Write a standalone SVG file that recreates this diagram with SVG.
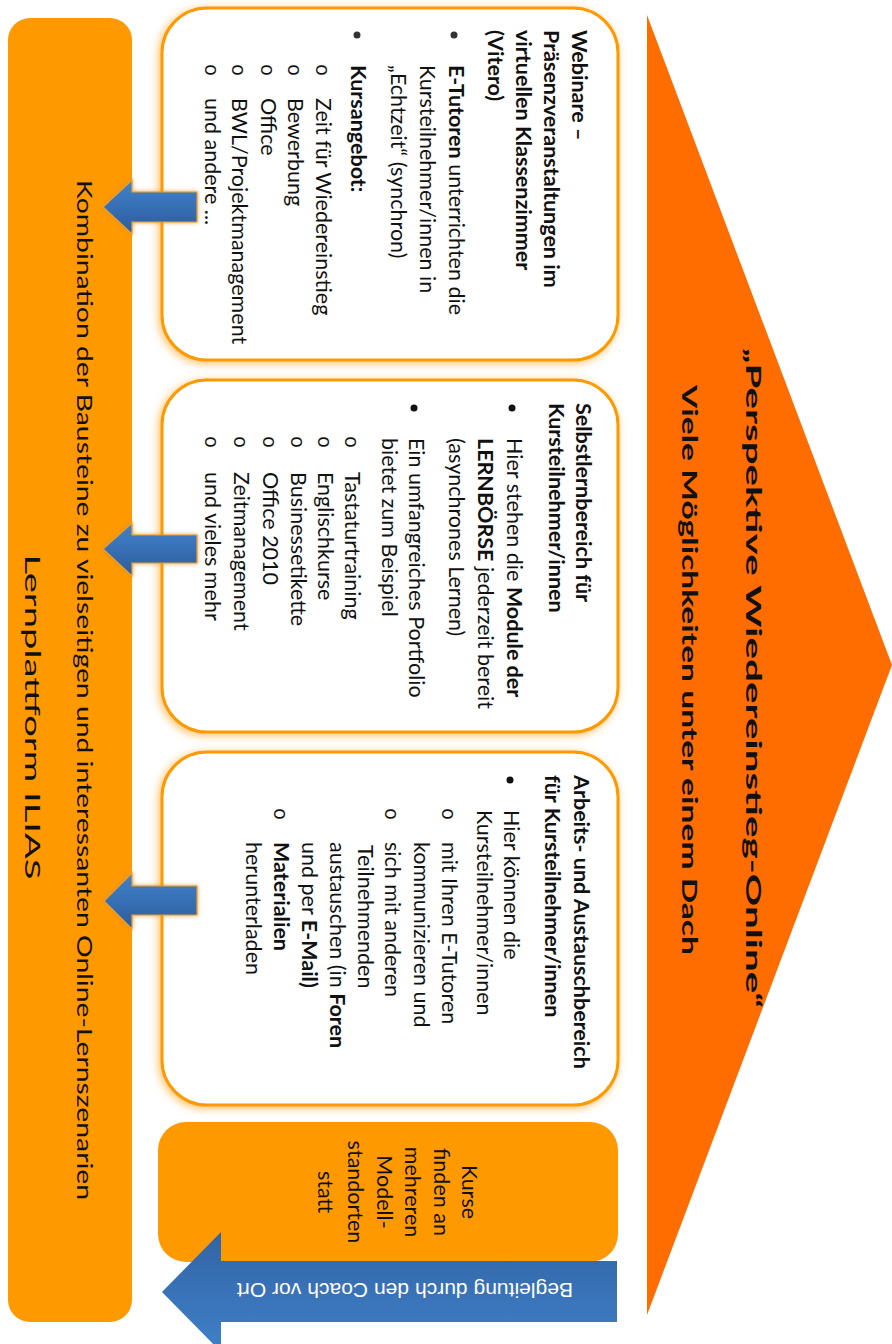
<svg xmlns="http://www.w3.org/2000/svg" width="892" height="1344" viewBox="0 0 892 1344">
<style>
.t{font-family:Lato,"Liberation Sans",sans-serif;font-size:21.5px;fill:#111}
.b{font-weight:700}
.o{font-family:"Liberation Mono",monospace;font-size:20px;fill:#111}
.box{fill:#fff;stroke:#FF9900;stroke-width:3}
.arr{fill:url(#gArr);stroke:#E8A030;stroke-width:1.2}
</style>
<defs>
<filter id="glow" x="-10%" y="-10%" width="120%" height="120%">
<feGaussianBlur in="SourceAlpha" stdDeviation="4" result="bl"/>
<feFlood flood-color="#FFB040" flood-opacity="0.8"/>
<feComposite in2="bl" operator="in" result="sh"/>
<feOffset dx="-2" dy="2" result="sh2"/>
<feMerge><feMergeNode in="sh2"/><feMergeNode in="SourceGraphic"/></feMerge>
</filter>
<filter id="aglow" x="-20%" y="-20%" width="140%" height="140%">
<feGaussianBlur in="SourceAlpha" stdDeviation="2" result="bl"/>
<feFlood flood-color="#D98A20" flood-opacity="0.8"/>
<feComposite in2="bl" operator="in" result="sh"/>
<feMerge><feMergeNode in="sh"/><feMergeNode in="SourceGraphic"/></feMerge>
</filter>
<linearGradient id="gArr" x1="0" y1="0" x2="0" y2="1">
<stop offset="0" stop-color="#4282CC"/>
<stop offset="1" stop-color="#2C5C9C"/>
</linearGradient>
<linearGradient id="gBig" x1="0" y1="0" x2="0" y2="1">
<stop offset="0" stop-color="#3264A6"/>
<stop offset="1" stop-color="#4080C8"/>
</linearGradient>
</defs>

<g id="roof">
<polygon points="647,15 892,665 647,1315" fill="#FF6D00"/>
<g transform="rotate(90)">
<text class="t b" x="678" y="-746" font-size="37" text-anchor="middle" textLength="660" lengthAdjust="spacingAndGlyphs">„Perspektive Wiedereinstieg-Online“</text>
<text class="t b" x="670" y="-682" font-size="31" text-anchor="middle" textLength="570" lengthAdjust="spacingAndGlyphs">Viele Möglichkeiten unter einem Dach</text>
</g>
</g>

<g id="platform">
<rect x="8" y="18" width="124" height="1304" rx="22" fill="#FF9900"/>
<g transform="rotate(90)">
<text class="t" x="690" y="-77" font-size="28" text-anchor="middle" textLength="1020" lengthAdjust="spacingAndGlyphs">Kombination der Bausteine zu vielseitigen und interessanten Online-Lernszenarien</text>
<text class="t" x="717" y="-25" font-size="32" text-anchor="middle" textLength="325" lengthAdjust="spacingAndGlyphs">Lernplattform ILIAS</text>
</g>
</g>

<g id="webinare">
<rect class="box" x="162" y="8" width="456" height="352" rx="45" filter="url(#glow)"/>
<g transform="rotate(90)">
<text class="t b" x="30" y="-572">Webinare –</text>
<text class="t b" x="30" y="-544">Präsenzveranstaltungen im</text>
<text class="t b" x="30" y="-516">virtuellen Klassenzimmer</text>
<text class="t b" x="30" y="-488">(Vitero)</text>
<circle cx="35" cy="-454" r="3.5" fill="#333"/>
<text class="t" x="65" y="-449"><tspan class="b">E-Tutoren</tspan> unterrichten die</text>
<text class="t" x="65" y="-420">Kursteilnehmer/innen in</text>
<text class="t" x="65" y="-391">„Echtzeit“ (synchron)</text>
<circle cx="35" cy="-357" r="3.5" fill="#333"/>
<text class="t b" x="65" y="-351">Kursangebot:</text>
<text class="o" x="64" y="-316">o</text>
<text class="t" x="98" y="-316">Zeit für Wiedereinstieg</text>
<text class="o" x="64" y="-288">o</text>
<text class="t" x="98" y="-288">Bewerbung</text>
<text class="o" x="64" y="-261">o</text>
<text class="t" x="98" y="-261">Office</text>
<text class="o" x="64" y="-232">o</text>
<text class="t" x="98" y="-232">BWL/Projektmanagement</text>
<text class="o" x="64" y="-205">o</text>
<text class="t" x="98" y="-205">und andere ...</text>
</g>
</g>

<g id="selbstlern">
<rect class="box" x="162" y="380" width="456" height="352" rx="45" filter="url(#glow)"/>
<g transform="rotate(90)">
<text class="t b" x="403" y="-576">Selbstlernbereich für</text>
<text class="t b" x="403" y="-549">Kursteilnehmer/innen</text>
<circle cx="408" cy="-512" r="3.5" fill="#111"/>
<text class="t" x="438" y="-507">Hier stehen die <tspan class="b">Module der</tspan></text>
<text class="t" x="438" y="-478"><tspan class="b">LERNBÖRSE</tspan> jederzeit bereit</text>
<text class="t" x="438" y="-449">(asynchrones Lernen)</text>
<circle cx="408" cy="-414" r="3.5" fill="#111"/>
<text class="t" x="438" y="-409">Ein umfangreiches Portfolio</text>
<text class="t" x="438" y="-382">bietet zum Beispiel</text>
<text class="o" x="436" y="-345">o</text>
<text class="t" x="472" y="-345">Tastaturtraining</text>
<text class="o" x="436" y="-318">o</text>
<text class="t" x="472" y="-318">Englischkurse</text>
<text class="o" x="436" y="-291">o</text>
<text class="t" x="472" y="-291">Businessetikette</text>
<text class="o" x="436" y="-263">o</text>
<text class="t" x="472" y="-263">Office 2010</text>
<text class="o" x="436" y="-234">o</text>
<text class="t" x="472" y="-234">Zeitmanagement</text>
<text class="o" x="436" y="-205">o</text>
<text class="t" x="472" y="-205">und vieles mehr</text>
</g>
</g>

<g id="austausch">
<rect class="box" x="162" y="752" width="456" height="353" rx="45" filter="url(#glow)"/>
<g transform="rotate(90)">
<text class="t b" x="775" y="-574">Arbeits- und Austauschbereich</text>
<text class="t b" x="775" y="-545">für Kursteilnehmer/innen</text>
<circle cx="780" cy="-510" r="3.5" fill="#111"/>
<text class="t" x="810" y="-504">Hier können die</text>
<text class="t" x="810" y="-477">Kursteilnehmer/innen</text>
<text class="o" x="808" y="-442">o</text>
<text class="t" x="842" y="-442">mit Ihren E-Tutoren</text>
<text class="t" x="842" y="-414">kommunizieren und</text>
<text class="o" x="808" y="-385">o</text>
<text class="t" x="842" y="-385">sich mit anderen</text>
<text class="t" x="845" y="-358">Teilnehmenden</text>
<text class="t" x="842" y="-330">austauschen (in <tspan class="b">Foren</tspan></text>
<text class="t" x="842" y="-302">und per <tspan class="b">E-Mail)</tspan></text>
<text class="o" x="808" y="-274">o</text>
<text class="t b" x="842" y="-274">Materialien</text>
<text class="t" x="842" y="-246">herunterladen</text>
</g>
</g>

<g id="standorte">
<rect x="158" y="1122" width="460" height="140" rx="28" fill="#FF9900"/>
<g transform="rotate(90)">
<text class="t" x="1192" y="-462" font-size="20" text-anchor="middle">Kurse</text>
<text class="t" x="1192" y="-434" font-size="20" text-anchor="middle">finden an</text>
<text class="t" x="1192" y="-405" font-size="20" text-anchor="middle">mehreren</text>
<text class="t" x="1192" y="-377" font-size="20" text-anchor="middle">Modell-</text>
<text class="t" x="1192" y="-348" font-size="20" text-anchor="middle">standorten</text>
<text class="t" x="1192" y="-318" font-size="20" text-anchor="middle">statt</text>
</g>
</g>

<g id="connectors">
<polygon class="arr" filter="url(#aglow)" points="103,207 132,180 132,192 197,192 197,222 132,222 132,234"/>
<polygon class="arr" filter="url(#aglow)" points="103,549 132,523 132,535 197,535 197,563 132,563 132,576"/>
<polygon class="arr" filter="url(#aglow)" points="104,901 132,873 132,886 197,886 197,915 132,915 132,929"/>
</g>

<g id="coach">
<polygon points="162,1292 221,1232 221,1261 617,1261 617,1322 221,1322 221,1352" fill="url(#gBig)"/>
<text x="405" y="1283" transform="rotate(180 405 1283)" text-anchor="middle" font-family="'Liberation Sans',Arial,sans-serif" font-size="20" fill="#fff" textLength="336" lengthAdjust="spacingAndGlyphs">Begleitung durch den Coach vor Ort</text>
</g>
</svg>
